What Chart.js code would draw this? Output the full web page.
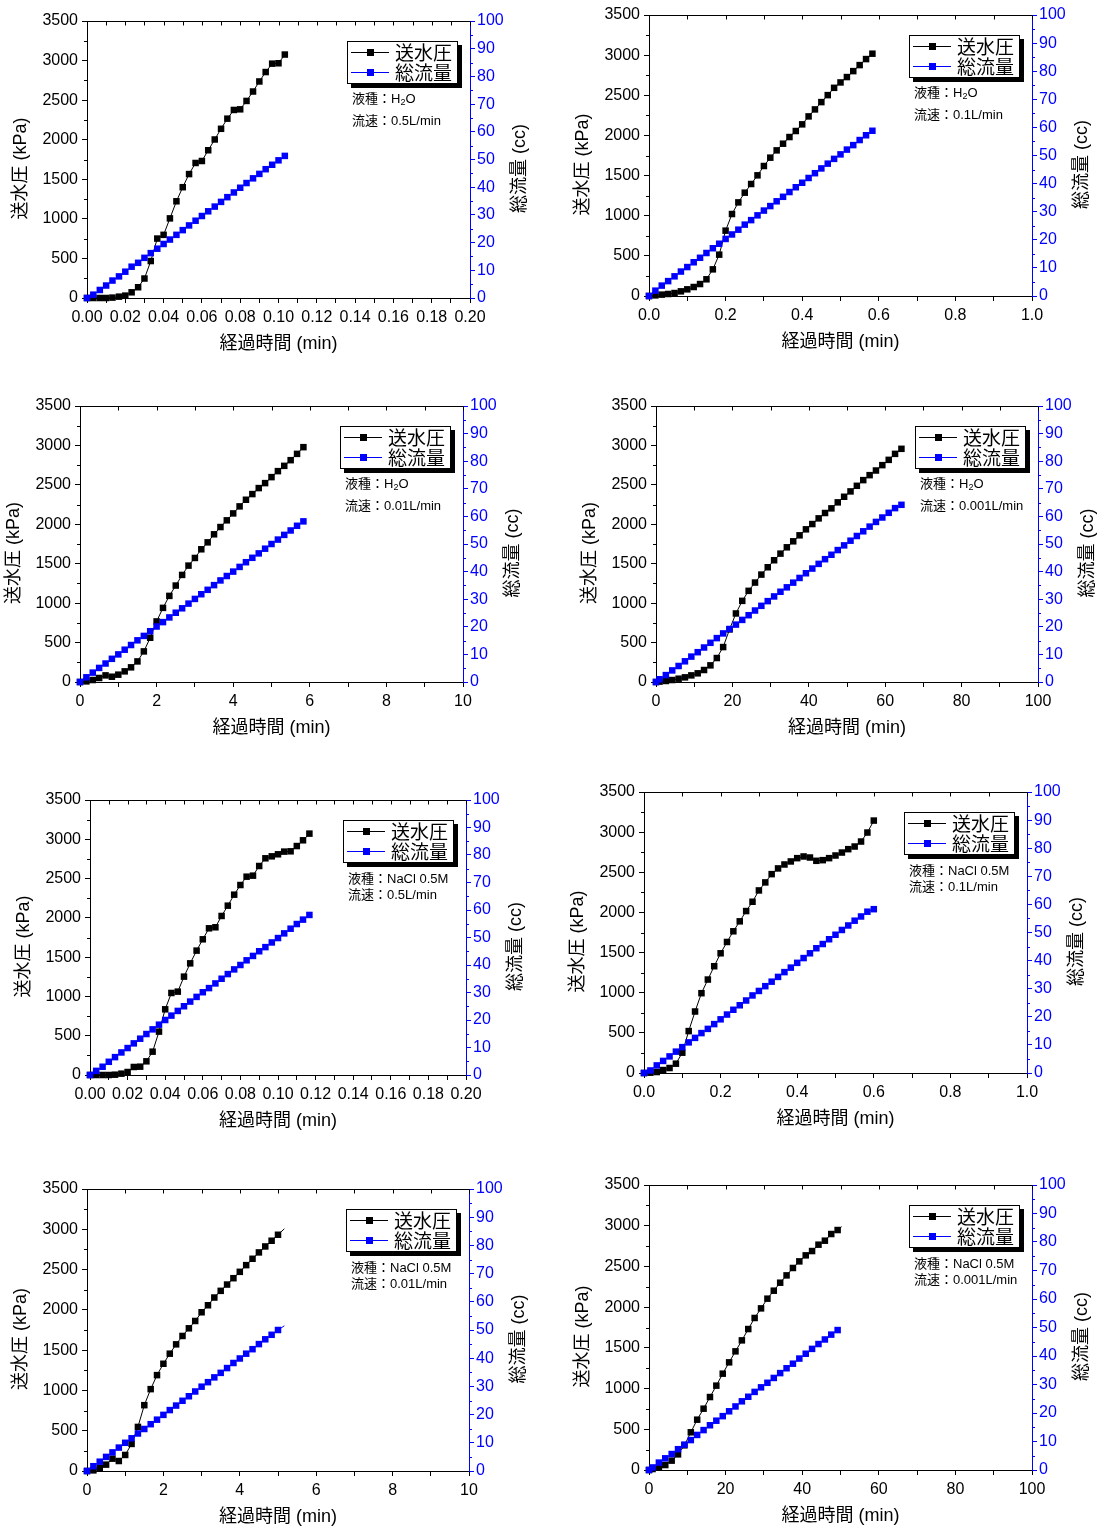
<!DOCTYPE html>
<html lang="ja">
<head>
<meta charset="utf-8">
<title>送水圧・総流量の経時変化</title>
<script src="https://cdn.jsdelivr.net/npm/chart.js@4.4.1/dist/chart.umd.min.js"></script>
<style>
    html, body { margin: 0; padding: 0; width: 1100px; height: 1526px; overflow: hidden; background: #fff; }
    canvas { position: absolute; }
</style>
</head>
<body>
<script>
// === Data ===
// 1: H2O 0.5L/min
const p1Time = [0, 0.0033, 0.0067, 0.01, 0.0133, 0.0167, 0.02, 0.0233, 0.0267, 0.03, 0.0333, 0.0367, 0.04, 0.0433, 0.0467, 0.05,
    0.0533, 0.0567, 0.06, 0.0633, 0.0667, 0.07, 0.0733, 0.0767, 0.08, 0.0833, 0.0867, 0.09, 0.0933, 0.0967, 0.1, 0.1033];
const p1Pressure = [0, 0, 0, 0, 5, 17, 30, 72, 136, 246, 467, 751, 798, 1006, 1222, 1400,
    1566, 1706, 1731, 1867, 2003, 2138, 2266, 2376, 2384, 2490, 2609, 2736, 2855, 2961, 2966, 3076];
const p1Flow = [0, 1.2, 2.9, 4.5, 6.3, 7.8, 9.5, 11.3, 12.7, 14.5, 16.2, 17.8, 19.5, 21.1, 22.8, 24.5,
    26.2, 27.9, 29.6, 31.3, 33.0, 34.7, 36.4, 38.1, 39.8, 41.5, 43.2, 44.8, 46.5, 48.1, 49.7, 51.3];

// 2: H2O 0.1L/min
const p2Time = [0, 0.0167, 0.0333, 0.05, 0.0667, 0.0833, 0.1, 0.1167, 0.1333, 0.15, 0.1667, 0.1833, 0.2, 0.2167, 0.2333, 0.25, 0.2667, 0.2833,
    0.3, 0.3167, 0.3333, 0.35, 0.3667, 0.3833, 0.4, 0.4167, 0.4333, 0.45, 0.4667, 0.4833, 0.5, 0.5167, 0.5333, 0.55, 0.5667, 0.5833];
const p2Pressure = [0, 8, 17, 25, 37, 58, 83, 112, 149, 208, 332, 515, 814, 1021, 1166, 1287, 1395, 1503,
    1619, 1723, 1814, 1897, 1980, 2055, 2138, 2237, 2324, 2415, 2502, 2593, 2660, 2727, 2801, 2876, 2951, 3018];
const p2Flow = [0, 1.9, 3.7, 5.3, 7.0, 8.7, 10.3, 12.0, 13.6, 15.3, 17.0, 18.6, 20.3, 21.9, 23.6, 25.4, 27.0, 28.7,
    30.4, 32.0, 33.7, 35.3, 37.0, 38.7, 40.3, 42.0, 43.7, 45.4, 47.1, 48.8, 50.4, 52.1, 53.7, 55.5, 57.2, 58.8];

// 3: H2O 0.01L/min
const p3Time = [0, 0.167, 0.333, 0.5, 0.667, 0.833, 1.0, 1.167, 1.333, 1.5, 1.667, 1.833, 2.0, 2.167, 2.333, 2.5, 2.667, 2.833,
    3.0, 3.167, 3.333, 3.5, 3.667, 3.833, 4.0, 4.167, 4.333, 4.5, 4.667, 4.833, 5.0, 5.167, 5.333, 5.5, 5.667, 5.833];
const p3Pressure = [0, 8, 25, 51, 84, 67, 93, 135, 186, 261, 388, 561, 768, 940, 1092, 1223, 1358, 1476,
    1573, 1683, 1771, 1873, 1965, 2050, 2138, 2227, 2311, 2383, 2459, 2522, 2598, 2674, 2741, 2813, 2893, 2978];
const p3Flow = [0, 1.7, 3.4, 5.1, 6.7, 8.4, 10.0, 11.7, 13.4, 15.1, 16.7, 18.4, 20.1, 21.7, 23.4, 25.1, 26.7, 28.4,
    30.1, 31.8, 33.4, 35.1, 36.8, 38.4, 40.0, 41.7, 43.4, 45.0, 46.6, 48.3, 50.0, 51.6, 53.3, 54.9, 56.6, 58.2];

// 4: H2O 0.001L/min
const p4Time = [0, 0.92, 2.58, 4.25, 5.92, 7.58, 9.25, 10.92, 12.58, 14.25, 15.92, 17.58, 19.25, 20.92, 22.58, 24.25, 25.92, 27.58, 29.25, 30.92,
    32.58, 34.25, 35.92, 37.58, 39.25, 40.92, 42.58, 44.25, 45.92, 47.58, 49.25, 50.92, 52.58, 54.25, 55.92, 57.58, 59.25, 60.92, 62.58, 64.25];
const p4Pressure = [0, 5, 13, 25, 42, 59, 84, 110, 152, 211, 304, 443, 667, 869, 1029, 1156, 1261, 1362, 1455, 1544,
    1628, 1708, 1784, 1860, 1936, 2003, 2075, 2143, 2202, 2278, 2349, 2417, 2488, 2560, 2623, 2682, 2750, 2817, 2893, 2957];
const p4Flow = [0, 1.0, 2.5, 4.2, 5.8, 7.5, 9.2, 10.8, 12.5, 14.2, 15.9, 17.6, 19.2, 20.8, 22.5, 24.2, 25.9, 27.6, 29.3, 31.0,
    32.7, 34.3, 36.0, 37.7, 39.4, 41.1, 42.8, 44.5, 46.1, 47.8, 49.5, 51.2, 52.9, 54.6, 56.3, 58.0, 59.6, 61.3, 63.0, 64.2];

// 5: NaCl 0.5M 0.5L/min
const p5Time = [0, 0.0033, 0.0067, 0.01, 0.0133, 0.0167, 0.02, 0.0233, 0.0267, 0.03, 0.0333, 0.0367, 0.04, 0.0433, 0.0467, 0.05, 0.0533, 0.0567,
    0.06, 0.0633, 0.0667, 0.07, 0.0733, 0.0767, 0.08, 0.0833, 0.0867, 0.09, 0.0933, 0.0967, 0.1, 0.1033, 0.1067, 0.11, 0.1133, 0.1167];
const p5Pressure = [0, 0, 0, 0, 4, 17, 38, 102, 106, 174, 297, 552, 836, 1044, 1061, 1252, 1421, 1583,
    1727, 1867, 1880, 2024, 2155, 2295, 2418, 2524, 2537, 2660, 2758, 2783, 2809, 2843, 2847, 2914, 2987, 3072];
const p5Flow = [0, 1.5, 3.0, 4.8, 6.5, 8.2, 9.8, 11.5, 13.2, 14.9, 16.6, 18.3, 20.0, 21.6, 23.3, 25.0, 26.7, 28.4,
    30.1, 31.6, 33.3, 35.0, 36.7, 38.4, 40.0, 41.7, 43.3, 45.0, 46.5, 48.2, 49.8, 51.5, 53.2, 54.9, 56.5, 58.2];

// 6: NaCl 0.5M 0.1L/min
const p6Time = [0, 0.0167, 0.0333, 0.05, 0.0667, 0.0833, 0.1, 0.1167, 0.1333, 0.15, 0.1667, 0.1833, 0.2, 0.2167, 0.2333, 0.25, 0.2667, 0.2833, 0.3,
    0.3167, 0.3333, 0.35, 0.3667, 0.3833, 0.4, 0.4167, 0.4333, 0.45, 0.4667, 0.4833, 0.5, 0.5167, 0.5333, 0.55, 0.5667, 0.5833, 0.6];
const p6Pressure = [0, 4, 12, 37, 62, 116, 253, 522, 766, 994, 1164, 1330, 1491, 1632, 1765, 1889, 2017, 2133, 2274,
    2374, 2477, 2548, 2597, 2635, 2676, 2697, 2684, 2643, 2651, 2676, 2709, 2746, 2788, 2821, 2883, 2995, 3144];
const p6Flow = [0, 0.9, 2.7, 4.3, 5.9, 7.6, 9.2, 10.9, 12.5, 14.2, 15.7, 17.4, 19.1, 20.8, 22.5, 24.1, 25.8, 27.6, 29.2,
    30.9, 32.5, 34.2, 35.9, 37.5, 39.2, 40.9, 42.6, 44.4, 45.9, 47.6, 49.2, 50.9, 52.5, 54.2, 55.7, 57.4, 58.3];

// 7: NaCl 0.5M 0.01L/min
const p7Time = [0, 0.167, 0.333, 0.5, 0.667, 0.833, 1.0, 1.167, 1.333, 1.5, 1.667, 1.833, 2.0, 2.167, 2.333, 2.5,
    2.667, 2.833, 3.0, 3.167, 3.333, 3.5, 3.667, 3.833, 4.0, 4.167, 4.333, 4.5, 4.667, 4.833, 5.0, 5.167];
const p7Pressure = [0, 8, 37, 79, 153, 124, 199, 336, 547, 817, 1016, 1190, 1331, 1456, 1572, 1676,
    1771, 1862, 1970, 2057, 2153, 2236, 2314, 2393, 2472, 2555, 2634, 2713, 2787, 2858, 2932, 3007];
const p7Flow = [0, 1.7, 3.3, 5.0, 6.6, 8.3, 10.0, 11.6, 13.3, 14.9, 16.6, 18.2, 19.9, 21.6, 23.2, 24.9,
    26.5, 28.2, 29.9, 31.5, 33.2, 34.8, 36.5, 38.3, 39.9, 41.6, 43.2, 45.0, 46.7, 48.3, 50.0, 51.5];

// 8: NaCl 0.5M 0.001L/min
const p8Time = [0, 0.92, 2.58, 4.25, 5.92, 7.58, 9.25, 10.92, 12.58, 14.25, 15.92, 17.58, 19.25, 20.92, 22.58, 24.25,
    25.92, 27.58, 29.25, 30.92, 32.58, 34.25, 35.92, 37.58, 39.25, 40.92, 42.58, 44.25, 45.92, 47.58, 49.25, 50.3];
const p8Pressure = [0, 12, 29, 61, 115, 192, 303, 463, 618, 753, 896, 1036, 1183, 1322, 1457, 1592,
    1731, 1867, 1985, 2104, 2202, 2300, 2390, 2481, 2562, 2636, 2689, 2767, 2816, 2898, 2947, 2988];
const p8Flow = [0, 0.9, 2.6, 4.1, 5.6, 7.3, 8.9, 10.5, 12.3, 14.0, 15.7, 17.3, 18.9, 20.6, 22.3, 24.1,
    25.7, 27.4, 29.0, 30.6, 32.3, 34.0, 35.7, 37.3, 39.1, 40.8, 42.5, 44.2, 45.8, 47.5, 49.1];

// per-panel axis ranges and notes
const xMaxList = [0.2, 1.0, 10, 100, 0.2, 1.0, 10, 100];
const xStepList = [0.01, 0.1, 1, 10, 0.01, 0.1, 1, 10];
const xDecimals = [2, 1, 0, 0, 2, 1, 0, 0];
const liquids = ['H2O', 'H2O', 'H2O', 'H2O', 'NaCl 0.5M', 'NaCl 0.5M', 'NaCl 0.5M', 'NaCl 0.5M'];
const rates = ['0.5L/min', '0.1L/min', '0.01L/min', '0.001L/min', '0.5L/min', '0.1L/min', '0.01L/min', '0.001L/min'];
const pressureTicks = [0, 500, 1000, 1500, 2000, 2500, 3000, 3500];
const flowTicks = [0, 10, 20, 30, 40, 50, 60, 70, 80, 90, 100];

const seriesNames = ['送水圧', '総流量'];
const xTitle = '経過時間 (min)';
const yTitle = '送水圧 (kPa)';
const y1Title = '総流量 (cc)';

// === Layout ===
// plot area of each panel in page pixels
const plotBoxes = [
    { l: 87, t: 21, r: 470, b: 298 },
    { l: 649, t: 15, r: 1032, b: 296 },
    { l: 80, t: 406, r: 463, b: 682 },
    { l: 656, t: 406, r: 1038, b: 682 },
    { l: 90, t: 800, r: 466, b: 1075 },
    { l: 644, t: 792, r: 1027, b: 1073 },
    { l: 87, t: 1189, r: 469, b: 1471 },
    { l: 649, t: 1185, r: 1032, b: 1470 }
];
const PAD_L = 85, PAD_T = 15, PAD_R = 62, PAD_B = 60;

const BLACK = '#000000';
const BLUE = '#0000ff';
const FONT = "'Liberation Sans', 'Noto Sans CJK JP', sans-serif";
Chart.defaults.font.family = FONT;

const panels = [
    { time: p1Time, pressure: p1Pressure, flow: p1Flow, open: [false, false] },
    { time: p2Time, pressure: p2Pressure, flow: p2Flow, open: [false, false] },
    { time: p3Time, pressure: p3Pressure, flow: p3Flow, open: [false, false] },
    { time: p4Time, pressure: p4Pressure, flow: p4Flow, open: [false, false] },
    { time: p5Time, pressure: p5Pressure, flow: p5Flow, open: [false, false] },
    { time: p6Time, pressure: p6Pressure, flow: p6Flow, open: [false, false] },
    { time: p7Time, pressure: p7Pressure, flow: p7Flow, open: [true, true] },
    { time: p8Time, pressure: p8Pressure, flow: p8Flow, open: [true, false] }
];

function toPoints(time, values) {
    return values.map((v, i) => ({ x: time[i], y: v }));
}

// === Frame, minor ticks, titles, legend box and notes ===
const decor = {
    id: 'decor',
    afterDraw(chart, args, opts) {
        const { ctx, chartArea: a, scales } = chart;
        const xs = scales.x, ys = scales.y, y1s = scales.y1;
        ctx.save();
        ctx.lineWidth = 1;

        // top border with inward ticks
        ctx.strokeStyle = BLACK;
        ctx.beginPath();
        const top = Math.round(a.top) + 0.5;
        ctx.moveTo(a.left, top);
        ctx.lineTo(a.right, top);
        xs.ticks.forEach(t => {
            const px = Math.round(xs.getPixelForValue(t.value)) + 0.5;
            ctx.moveTo(px, top);
            ctx.lineTo(px, top + 4);
        });
        ctx.stroke();

        // minor ticks on both y axes
        const minor = (scale, x0, dir, color) => {
            ctx.strokeStyle = color;
            ctx.beginPath();
            for (let i = 0; i < scale.ticks.length - 1; i++) {
                const mid = (scale.ticks[i].value + scale.ticks[i + 1].value) / 2;
                const py = Math.round(scale.getPixelForValue(mid)) + 0.5;
                ctx.moveTo(x0, py);
                ctx.lineTo(x0 + dir * 3, py);
            }
            ctx.stroke();
        };
        minor(ys, Math.round(a.left), -1, BLACK);
        minor(y1s, Math.round(a.right), 1, BLUE);

        // y axis titles, both reading bottom to top
        ctx.fillStyle = BLACK;
        ctx.font = '18px ' + FONT;
        ctx.textAlign = 'center';
        ctx.textBaseline = 'middle';
        const cy = (a.top + a.bottom) / 2 + 9;
        [[a.left - 66, yTitle], [a.right + 50, y1Title]].forEach(([tx, text]) => {
            ctx.save();
            ctx.translate(tx, cy);
            ctx.rotate(-Math.PI / 2);
            ctx.fillText(text, 0, 0);
            ctx.restore();
        });

        // legend box with drop shadow
        const bw = 111, bh = 43;
        const bx = Math.round(a.right) - 12 - bw, by = Math.round(a.top) + 20;
        ctx.fillStyle = BLACK;
        ctx.fillRect(bx + 4, by + 4, bw, bh);
        ctx.fillStyle = '#fff';
        ctx.fillRect(bx, by, bw, bh);
        ctx.strokeStyle = BLACK;
        ctx.strokeRect(bx + 0.5, by + 0.5, bw - 1, bh - 1);
        ctx.textAlign = 'left';
        chart.data.datasets.forEach((ds, k) => {
            const ry = by + 11 + k * 20;
            ctx.strokeStyle = ds.borderColor;
            ctx.beginPath();
            ctx.moveTo(bx + 4, ry + 0.5);
            ctx.lineTo(bx + 42, ry + 0.5);
            ctx.stroke();
            ctx.fillStyle = ds.borderColor;
            ctx.fillRect(bx + 20, ry - 3, 7, 7);
            ctx.fillStyle = BLACK;
            ctx.font = "19px 'Noto Sans CJK JP', sans-serif";
            ctx.fillText(ds.label, bx + 48, ry + 1);
        });

        // liquid / flow-rate note
        const isWater = opts.liquid === 'H2O';
        const l1 = by + (isWater ? 58 : 59);
        const l2 = by + (isWater ? 80 : 75);
        const tx = bx + 5;
        ctx.fillStyle = BLACK;
        ctx.font = '13px ' + FONT;
        let w = ctx.measureText('液種：').width;
        ctx.fillText('液種：', tx, l1);
        if (isWater) {
            ctx.fillText('H', tx + w, l1);
            w += ctx.measureText('H').width;
            ctx.font = '9px ' + FONT;
            ctx.fillText('2', tx + w, l1 + 4);
            w += ctx.measureText('2').width;
            ctx.font = '13px ' + FONT;
            ctx.fillText('O', tx + w, l1);
        } else {
            ctx.fillText(opts.liquid, tx + w, l1);
        }
        ctx.fillText('流速：' + opts.rate, tx, l2);
        ctx.restore();
    }
};

// === Build panels ===
panels.forEach((p, i) => {
    const box = plotBoxes[i];
    const w = box.r - box.l + PAD_L + PAD_R;
    const h = box.b - box.t + PAD_T + PAD_B;
    const canvas = document.createElement('canvas');
    canvas.width = w;
    canvas.height = h;
    canvas.style.left = (box.l - PAD_L) + 'px';
    canvas.style.top = (box.t - PAD_T) + 'px';
    canvas.style.width = w + 'px';
    canvas.style.height = h + 'px';
    document.body.appendChild(canvas);

    const radius = k => ctx => (p.open[k] && ctx.dataIndex === ctx.dataset.data.length - 1) ? 0 : 4.6;
    const dec = xDecimals[i];

    new Chart(canvas.getContext('2d'), {
        type: 'line',
        data: {
            datasets: [{
                label: seriesNames[0],
                data: toPoints(p.time, p.pressure),
                yAxisID: 'y',
                borderColor: BLACK,
                backgroundColor: BLACK,
                pointBackgroundColor: BLACK,
                borderWidth: 1,
                pointStyle: 'rect',
                pointRadius: radius(0),
                pointBorderWidth: 0,
                tension: 0,
                clip: false,
                order: 1
            }, {
                label: seriesNames[1],
                data: toPoints(p.time, p.flow),
                yAxisID: 'y1',
                borderColor: BLUE,
                backgroundColor: BLUE,
                pointBackgroundColor: BLUE,
                borderWidth: 1,
                pointStyle: 'rect',
                pointRadius: radius(1),
                pointBorderWidth: 0,
                tension: 0,
                clip: false,
                order: 0
            }]
        },
        options: {
            responsive: false,
            animation: false,
            devicePixelRatio: 1,
            events: [],
            layout: { padding: { top: PAD_T, left: 0, right: 0, bottom: 0 } },
            plugins: {
                legend: { display: false },
                tooltip: { enabled: false },
                decor: { liquid: liquids[i], rate: rates[i] }
            },
            scales: {
                x: {
                    type: 'linear',
                    position: 'bottom',
                    min: 0,
                    max: xMaxList[i],
                    ticks: {
                        stepSize: xStepList[i],
                        maxTicksLimit: 200,
                        autoSkip: false,
                        maxRotation: 0,
                        padding: 5,
                        color: BLACK,
                        font: { size: 16 },
                        callback: (v, idx) => idx % 2 === 0 ? Number(v).toFixed(dec) : ''
                    },
                    grid: { drawOnChartArea: false, tickLength: 5, tickColor: BLACK },
                    border: { display: true, color: BLACK, width: 1 },
                    title: {
                        display: true,
                        text: xTitle,
                        color: BLACK,
                        font: { size: 18, lineHeight: 1.2 },
                        padding: { top: 0, bottom: 3 }
                    },
                    afterFit: s => { s.height = PAD_B; }
                },
                y: {
                    type: 'linear',
                    position: 'left',
                    min: pressureTicks[0],
                    max: pressureTicks[pressureTicks.length - 1],
                    afterBuildTicks: s => { s.ticks = pressureTicks.map(v => ({ value: v })); },
                    ticks: { padding: 4, color: BLACK, font: { size: 16 }, callback: v => String(v) },
                    grid: { drawOnChartArea: false, tickLength: 5, tickColor: BLACK },
                    border: { display: true, color: BLACK, width: 1 },
                    afterFit: s => { s.width = PAD_L; }
                },
                y1: {
                    type: 'linear',
                    position: 'right',
                    min: flowTicks[0],
                    max: flowTicks[flowTicks.length - 1],
                    afterBuildTicks: s => { s.ticks = flowTicks.map(v => ({ value: v })); },
                    ticks: { padding: 2, color: BLUE, font: { size: 16 }, callback: v => String(v) },
                    grid: { drawOnChartArea: false, tickLength: 5, tickColor: BLUE },
                    border: { display: true, color: BLUE, width: 1 },
                    afterFit: s => { s.width = PAD_R; }
                }
            }
        },
        plugins: [decor]
    });
});
</script>
</body>
</html>
